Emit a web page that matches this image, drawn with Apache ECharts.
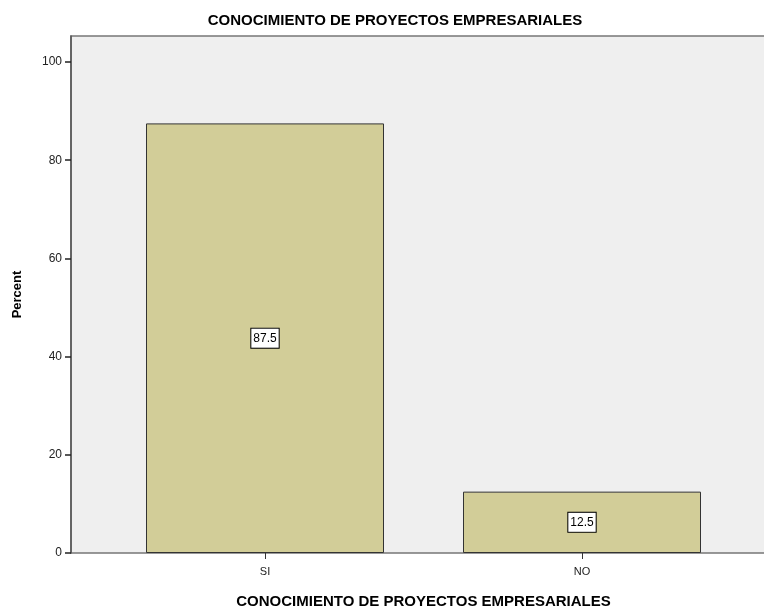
<!DOCTYPE html>
<html><head><meta charset="utf-8">
<script src="https://cdn.jsdelivr.net/npm/echarts@6/dist/echarts.min.js"></script>
<style>html,body{margin:0;padding:0;background:#fff}#c{width:764px;height:610px}</style>
</head><body><div id="c"></div>
<script>
const categories = ['SI', 'NO'];
const percentValues = [87.5, 12.5];
const yTicks = [0, 20, 40, 60, 80, 100];
const titleText = 'CONOCIMIENTO DE PROYECTOS EMPRESARIALES';
const xAxisTitle = 'CONOCIMIENTO DE PROYECTOS EMPRESARIALES';
const yAxisTitle = 'Percent';

const chart = echarts.init(document.getElementById('c'));
const font = 'Arial, "Liberation Sans", sans-serif';
const yMax = 105.3;
chart.setOption({
  animation: false,
  title: {text: titleText, left: 390, textAlign: 'center', top: 8,
    textStyle: {fontFamily: font, fontSize: 15, fontWeight: 'bold', color: '#000'}},
  grid: [
    {left: 71, right: -3, top: 36, bottom: 57, show: true, backgroundColor: '#efefef', borderColor: '#777', borderWidth: 1.5,
      containLabel: false, outerBoundsMode: 'none'},
    {left: 106.5, width: 634, top: 36, bottom: 57, containLabel: false, outerBoundsMode: 'none'}
  ],
  xAxis: [
    {gridIndex: 0, type: 'value', min: 0, max: 1, show: false},
    {gridIndex: 1, type: 'category', data: categories,
      name: xAxisTitle, nameLocation: 'middle', nameGap: 41,
      nameTextStyle: {fontFamily: font, fontSize: 15, fontWeight: 'bold', color: '#000'},
      axisLine: {show: false},
      axisTick: {show: true, alignWithLabel: true, length: 6, lineStyle: {color: '#333'}, interval: 0},
      axisLabel: {fontFamily: font, fontSize: 11, color: '#222', margin: 13}}
  ],
  yAxis: [
    {gridIndex: 0, type: 'value', min: 0, max: yMax, interval: 20,
      name: yAxisTitle, nameLocation: 'middle', nameGap: 47, nameRotate: 90,
      nameTextStyle: {fontFamily: font, fontSize: 13, fontWeight: 'bold', color: '#000'},
      axisLine: {show: true, lineStyle: {color: '#555', width: 1.5}},
      axisTick: {show: true, length: 6, lineStyle: {color: '#222', width: 1.5}, customValues: yTicks},
      axisLabel: {fontFamily: font, fontSize: 12, color: '#222', margin: 9, customValues: yTicks},
      splitLine: {show: false}},
    {gridIndex: 1, type: 'value', min: 0, max: yMax, show: false, splitLine: {show: false}}
  ],
  series: [{
    type: 'bar', xAxisIndex: 1, yAxisIndex: 1, data: percentValues,
    barWidth: 238,
    itemStyle: {color: '#d2cd98', borderColor: '#333', borderWidth: 1},
    label: {show: true, position: 'inside', formatter: p => p.value.toFixed(1),
      fontFamily: font, fontSize: 12, color: '#000', backgroundColor: '#fff',
      borderColor: '#000', borderWidth: 1, padding: [4, 2, 3, 2]}
  }]
});
</script></body></html>
